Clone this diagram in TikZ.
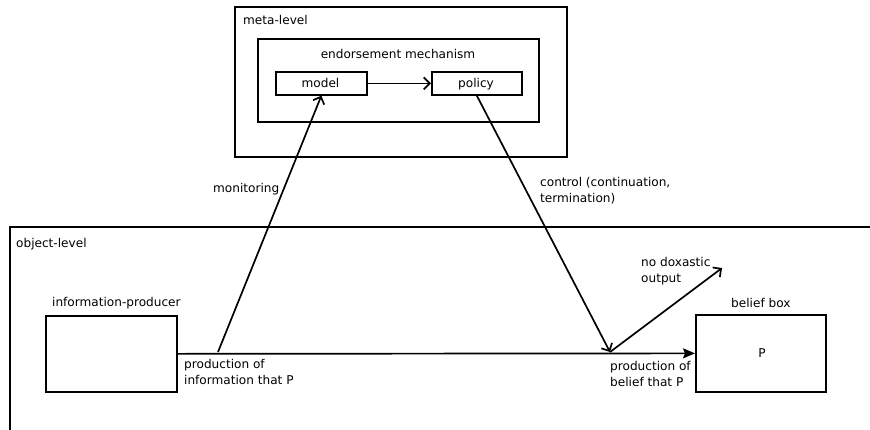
\documentclass[tikz,border=0pt]{standalone}
\usepackage{fontspec}
\setmainfont{DejaVu Sans}
\usetikzlibrary{arrows.meta}
\begin{document}
\begin{tikzpicture}[x=1pt,y=-1pt,
  box/.style={draw, line width=1.7pt, inner sep=0pt, anchor=north west},
  lbl/.style={inner sep=0pt, anchor=base west, font=\fontsize{12.1}{16}\selectfont, align=left},
  conn/.style={line width=1.7pt},
  open/.style={conn, -{Straight Barb[length=6pt,width=12pt,line width=1.7pt]}},
  filled/.style={conn, -{Stealth[length=12pt,width=10pt,inset=2pt]}}]
\useasboundingbox (0,0) rectangle (870,429);
\clip (0,0) rectangle (870,429);
% boxes
\node[box, minimum width=332pt, minimum height=150pt] (meta) at (234,6) {};
\node[box, minimum width=281pt, minimum height=83pt] (endo) at (257,38) {};
\node[box, minimum width=91pt, minimum height=23pt] (model) at (275,71) {};
\node[box, minimum width=90pt, minimum height=23pt] (policy) at (431,71) {};
\node[box, minimum width=900pt, minimum height=260pt] (obj) at (9,226) {};
\node[box, minimum width=131pt, minimum height=76pt] (ip) at (45,315) {};
\node[box, minimum width=130pt, minimum height=77pt] (bb) at (695,314) {};
% texts
\node[lbl] (tmeta) at (243,24) {meta-level};
\node[lbl, anchor=base] (tendo) at (398,58) {endorsement mechanism};
\node[lbl, anchor=base] (tmodel) at (320.5,87) {model};
\node[lbl, anchor=base] (tpolicy) at (476,87) {policy};
\node[lbl] (tmon) at (213,192) {monitoring};
\node[lbl] (tctl) at (540,202) {control (continuation,\\termination)};
\node[lbl] (tobj) at (16,247) {object-level};
\node[lbl] (tip) at (52,306) {information-producer};
\node[lbl] (tpi) at (184,384) {production of\\information that P};
\node[lbl] (tnd) at (641,282) {no doxastic\\output};
\node[lbl] (tbb) at (731,307) {belief box};
\node[lbl, anchor=base] (tp) at (762,357) {P};
\node[lbl] (tpb) at (610,386) {production of\\belief that P};
% connectors
\coordinate (m1) at (218,352);
\coordinate (j) at (610,352);
\coordinate (nd) at (722,268);
\draw[filled] (ip.east) -- (bb.west);
\draw[open] (m1) -- (model.south);
\draw[open] (model.east) -- (policy.west);
\draw[open] (policy.south) -- (j);
\draw[open] (j) -- (nd);
\end{tikzpicture}
\end{document}
